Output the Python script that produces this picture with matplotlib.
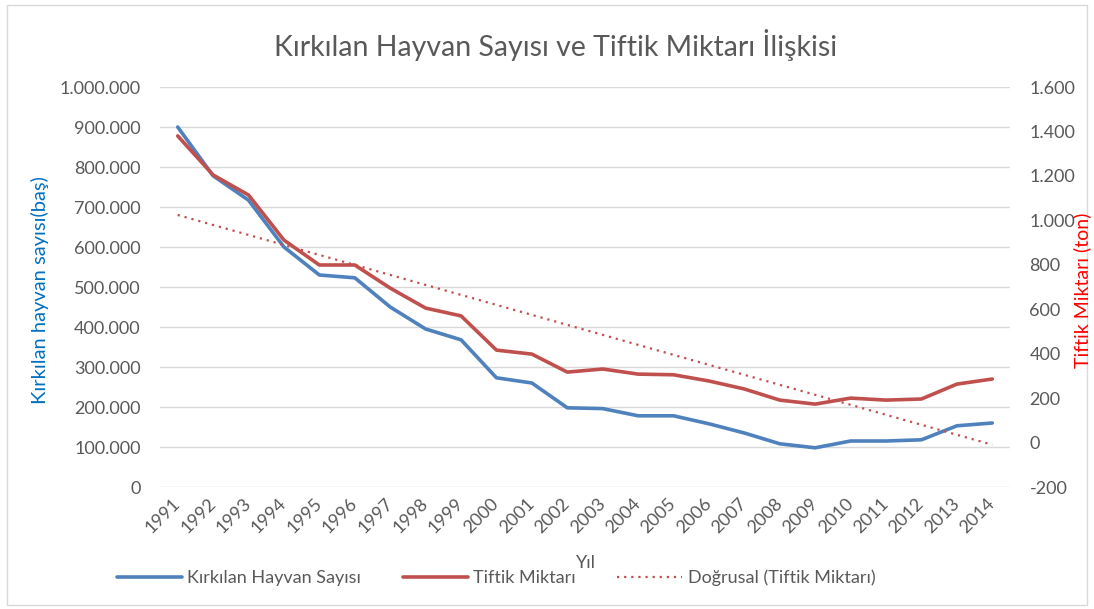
#  Kirkilan hayvan / tiftik grafigi
import numpy as np
import matplotlib.pyplot as plt
from matplotlib.ticker import FuncFormatter, MultipleLocator
from matplotlib.patches import Rectangle

plt.rcParams['font.family'] = ['Lato', 'DejaVu Sans']

years = list(range(1991, 2015))
hayvan = [900000, 778000, 717000, 600000, 530000, 523000, 450000, 395000,
          368000, 273000, 260000, 198000, 196000, 178000, 178000, 158000,
          135000, 108000, 98000, 115000, 115000, 118000, 153000, 160000]
tiftik = [1380, 1204, 1114, 911, 799, 799, 695, 605, 570, 416, 398, 317,
          331, 308, 305, 277, 241, 191, 173, 200, 191, 196, 263, 286]

blue = '#4F81BD'
red = '#C0504D'
gray = '#595959'

x = np.arange(len(years))
# Excel "Dogrusal" trend line (least squares)
k, b = np.polyfit(x, tiftik, 1)
trend = k * x + b

fig = plt.figure(figsize=(10.94, 6.09), dpi=100)
fig.patches.append(Rectangle((0.006, 0.006), 0.988, 0.985, transform=fig.transFigure,
                             fill=False, edgecolor='#D9D9D9', lw=1))

ax = fig.add_axes([160/1094, 1-487/609, 850/1094, 400/609])
ax2 = ax.twinx()

l1, = ax.plot(x, hayvan, color=blue, lw=2.6, solid_capstyle='round', zorder=3)
l2, = ax2.plot(x, tiftik, color=red, lw=2.6, solid_capstyle='round', zorder=3)
l3, = ax2.plot(x, trend, color=red, lw=1.6, ls=(0, (1, 2.2)), zorder=2)

ax.set_xlim(-0.5, len(years) - 0.5)
ax.set_ylim(0, 1000000)
ax2.set_ylim(-200, 1600)
ax.yaxis.set_major_locator(MultipleLocator(100000))
ax2.yaxis.set_major_locator(MultipleLocator(200))
fmt = FuncFormatter(lambda v, p: f"{int(round(v)):,}".replace(",", "."))
ax.yaxis.set_major_formatter(fmt)
ax2.yaxis.set_major_formatter(fmt)

ax.set_xticks(x)
ax.set_xticklabels([str(y) for y in years], rotation=45, ha='right',
                   rotation_mode='anchor', va='center')
ax.grid(axis='y', color='#D9D9D9', lw=1)
ax.set_axisbelow(True)
for a in (ax, ax2):
    for s in a.spines.values():
        s.set_visible(False)
    a.tick_params(length=0, labelsize=13, labelcolor=gray)
ax.tick_params(axis='y', pad=14)
ax.tick_params(axis='x', pad=10)
ax2.tick_params(axis='y', pad=14)

fig.text(556/1094, 1-45/609, 'Kırkılan Hayvan Sayısı ve Tiftik Miktarı İlişkisi',
         ha='center', va='center', fontsize=20.5, color=gray)
fig.text(40/1094, 1-290/609, 'Kırkılan hayvan sayısı(baş)', rotation=90,
         ha='center', va='center', fontsize=14.5, color='#0070C0')
fig.text(1082/1094, 1-290/609, 'Tiftik Miktarı (ton)', rotation=90,
         ha='center', va='center', fontsize=14, color='#FF0000')
fig.text(586/1094, 1-563/609, 'Yıl', ha='center', va='center', fontsize=13, color=gray)

fig.legend([l1, l2, l3], ['Kırkılan Hayvan Sayısı', 'Tiftik Miktarı',
                          'Doğrusal (Tiftik Miktarı)'],
           loc='center', bbox_to_anchor=(496/1094, 1-578/609), ncol=3,
           frameon=False, fontsize=13, labelcolor=gray, handlelength=3.6,
           handletextpad=0.3, columnspacing=2.3)

fig.savefig('out.png', dpi=100)
